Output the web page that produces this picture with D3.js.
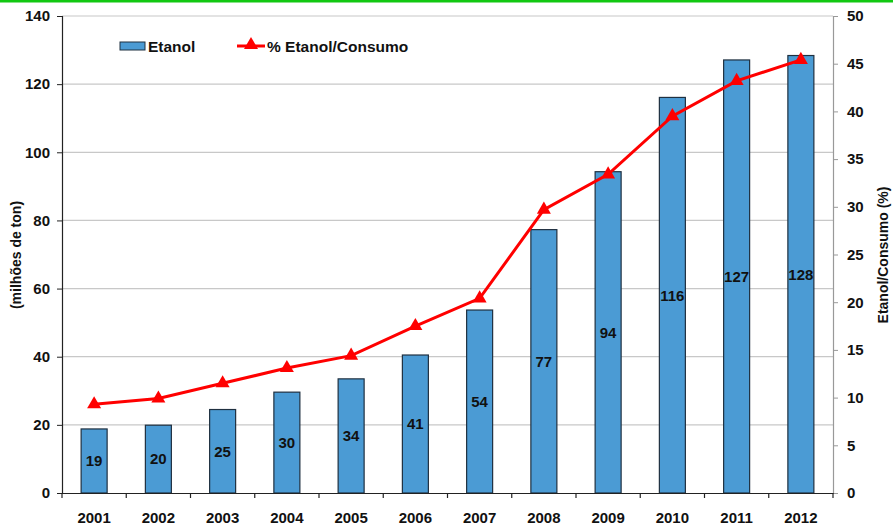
<!DOCTYPE html>
<html><head><meta charset="utf-8">
<script src="https://cdn.jsdelivr.net/npm/d3@7/dist/d3.min.js"></script>
<style>body{margin:0;background:#fff}svg{display:block;font-family:"Liberation Sans",Arial,sans-serif}</style>
</head><body><svg id="c" width="893" height="525"></svg>
<script>
const years = ["2001","2002","2003","2004","2005","2006","2007","2008","2009","2010","2011","2012"];
const etanol = [18.8,19.9,24.5,29.6,33.5,40.5,53.7,77.3,94.3,116.1,127.1,128.4];
const pctEtanol = [9.3,9.9,11.5,13.1,14.4,17.5,20.4,29.7,33.4,39.5,43.2,45.4];
const leftTicks = [0,20,40,60,80,100,120,140];
const rightTicks = [0,5,10,15,20,25,30,35,40,45,50];

const svg = d3.select("#c");
const L = 62, R = 833, T = 16, B = 493;
const x = d3.scaleBand().domain(years).range([L, R]);
const yL = d3.scaleLinear().domain([0,140]).range([B, T]);
const yR = d3.scaleLinear().domain([0,50]).range([B, T]);
const FF = "Liberation Sans, Arial, sans-serif";

// green top strip
svg.append("rect").attr("x",0).attr("y",0).attr("width",893).attr("height",2.5).attr("fill","#11c811");

// gridlines
svg.append("g").selectAll("line").data(leftTicks.filter(d=>d>0)).join("line")
  .attr("x1",L).attr("x2",R).attr("y1",d=>yL(d)).attr("y2",d=>yL(d))
  .attr("stroke","#c8c8c8").attr("stroke-width",1.2);

// bars
const bw = 26;
svg.append("g").selectAll("rect").data(etanol).join("rect")
  .attr("x",(d,i)=>x(years[i])+x.bandwidth()/2-bw/2)
  .attr("y",d=>yL(d)).attr("width",bw).attr("height",d=>B-yL(d))
  .attr("fill","#4b9bd4").attr("stroke","#1f3040").attr("stroke-width",1.2);

// bar labels
svg.append("g").selectAll("text").data(etanol).join("text")
  .attr("x",(d,i)=>x(years[i])+x.bandwidth()/2)
  .attr("y",d=>(yL(d)+B)/2).attr("dy","0.36em")
  .attr("text-anchor","middle").attr("font-size",15).attr("font-weight","bold").attr("fill","#111")
  .text(d=>Math.round(d));

// left axis
const gl = svg.append("g").attr("transform",`translate(${L},0)`)
  .call(d3.axisLeft(yL).tickValues(leftTicks).tickSize(5).tickPadding(7));
gl.select(".domain").attr("stroke","#222").attr("stroke-width",1.2);
gl.selectAll(".tick line").attr("stroke","#222");
gl.selectAll("text").attr("font-size",15).attr("font-weight","bold").attr("fill","#111").attr("font-family",FF);

// right axis
const gr = svg.append("g").attr("transform",`translate(${R},0)`)
  .call(d3.axisRight(yR).tickValues(rightTicks).tickSize(5).tickPadding(9));
gr.select(".domain").attr("stroke","#999").attr("stroke-width",1.2);
gr.selectAll(".tick line").attr("stroke","#999");
gr.selectAll("text").attr("font-size",15).attr("font-weight","bold").attr("fill","#111").attr("font-family",FF);

// bottom axis
const gb = svg.append("g").attr("transform",`translate(0,${B})`)
  .call(d3.axisBottom(x).tickSize(0).tickPadding(19));
gb.select(".domain").attr("stroke","#222").attr("stroke-width",1.2);
gb.selectAll("text").attr("font-size",15).attr("font-weight","bold").attr("fill","#111").attr("font-family",FF);
svg.append("g").selectAll("line").data(years.concat(["end"])).join("line")
  .attr("x1",(d,i)=>L+i*x.step()).attr("x2",(d,i)=>L+i*x.step())
  .attr("y1",B).attr("y2",B+5).attr("stroke","#222").attr("stroke-width",1.2);

// line
const line = d3.line().x((d,i)=>x(years[i])+x.bandwidth()/2).y(d=>yR(d));
svg.append("path").datum(pctEtanol).attr("d",line).attr("fill","none").attr("stroke","#ff0000").attr("stroke-width",3);
const tri = d3.symbol().type(d3.symbolTriangle).size(85);
svg.append("g").selectAll("path").data(pctEtanol).join("path")
  .attr("transform",(d,i)=>`translate(${x(years[i])+x.bandwidth()/2},${yR(d)})`)
  .attr("d",tri).attr("fill","#ff0000");

// axis titles
svg.append("text").attr("transform","translate(21,255) rotate(-90)").attr("text-anchor","middle")
  .attr("font-size",14).attr("font-weight","bold").attr("fill","#111").text("(milhões de ton)");
svg.append("text").attr("transform","translate(888,255) rotate(-90)").attr("text-anchor","middle")
  .attr("font-size",14).attr("font-weight","bold").attr("fill","#111").text("Etanol/Consumo (%)");

// legend
const lg = svg.append("g");
lg.append("rect").attr("x",120).attr("y",42).attr("width",25).attr("height",8).attr("fill","#4b9bd4").attr("stroke","#1f3040").attr("stroke-width",1);
lg.append("text").attr("x",148).attr("y",46).attr("dy","0.36em").attr("font-size",15.5).attr("font-weight","bold").attr("fill","#111").text("Etanol");
lg.append("line").attr("x1",237).attr("x2",265).attr("y1",46).attr("y2",46).attr("stroke","#ff0000").attr("stroke-width",3);
lg.append("path").attr("transform","translate(251,45)").attr("d",tri).attr("fill","#ff0000");
lg.append("text").attr("x",267).attr("y",46).attr("dy","0.36em").attr("font-size",15.5).attr("font-weight","bold").attr("fill","#111").text("% Etanol/Consumo");
</script></body></html>
